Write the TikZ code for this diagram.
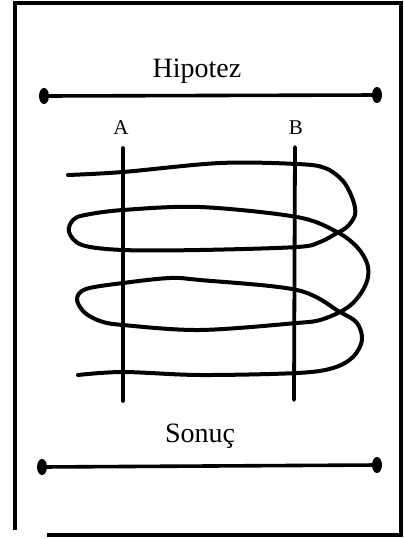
\documentclass[tikz,border=0pt]{standalone}
\usepackage{fontspec}
\setmainfont{Liberation Serif}
\usetikzlibrary{shapes.geometric}
\begin{document}
\begin{tikzpicture}[x=1pt,y=-1pt,
  frameline/.style={line width=3.2pt},
  bar/.style={line width=3.6pt},
  bardot/.style={ellipse,fill=black,minimum width=10pt,minimum height=16pt,inner sep=0pt},
  vline/.style={line width=3.8pt,line cap=round},
  wire/.style={line width=4pt,line cap=round,line join=round},
  title/.style={font=\fontsize{28}{30}\selectfont,anchor=base},
  letter/.style={font=\fontsize{21}{23}\selectfont,anchor=base}]
\useasboundingbox[fill=white] (0,0) rectangle (404,539);
% frame
\coordinate (f1) at (15,530);
\coordinate (f2) at (15,3);
\coordinate (f3) at (401,3);
\coordinate (f4) at (401,535);
\coordinate (f5) at (47,535);
\draw[frameline] (f1) -- (f2);
\draw[frameline] (13.4,3) -- (f3);
\draw[frameline] (401,1.4) -- (f4);
\draw[frameline] (402.6,535) -- (f5);
% titles
\node[title] (hip) at (197,77) {Hipotez};
\node[title] (son) at (200,442) {Sonuç};
% bars
\node[bardot] (h1) at (44,96) {};
\node[bardot] (h2) at (377,95) {};
\draw[bar] (h1) -- (h2);
\node[bardot] (s1) at (42,467) {};
\node[bardot] (s2) at (377,465) {};
\draw[bar] (s1) -- (s2);
% letters
\node[letter] (A) at (121,134) {A};
\node[letter] (B) at (296,134) {B};
% vertical lines
\coordinate (a1) at (123,148);
\coordinate (a2) at (123,401);
\coordinate (b1) at (295,147);
\coordinate (b2) at (294,400);
\draw[vline] (a1) -- (a2);
\draw[vline] (b1) -- (b2);
% wire
\draw[wire] plot[smooth,tension=0.55] coordinates {
 (68,175) (123,172) (220,163) (297,164) (325,168) (343,181) (353,200) (355,215)
 (347,227) (337,233) (320,242) (297,247) (200,250) (123,250) (82,245) (69,232)
 (73,220) (85,215) (123,210) (200,207) (297,217) (337,232) (357,247) (367,263)
 (368,277) (363,290) (353,303) (340,312) (320,320) (297,323) (200,330) (123,325)
 (100,321) (84,312) (77,299) (86,289) (123,283) (170,278) (200,280) (297,290)
 (340,312) (357,323) (362,340) (353,357) (333,368) (297,373) (200,375) (123,372) (78,375)};
\end{tikzpicture}
\end{document}
